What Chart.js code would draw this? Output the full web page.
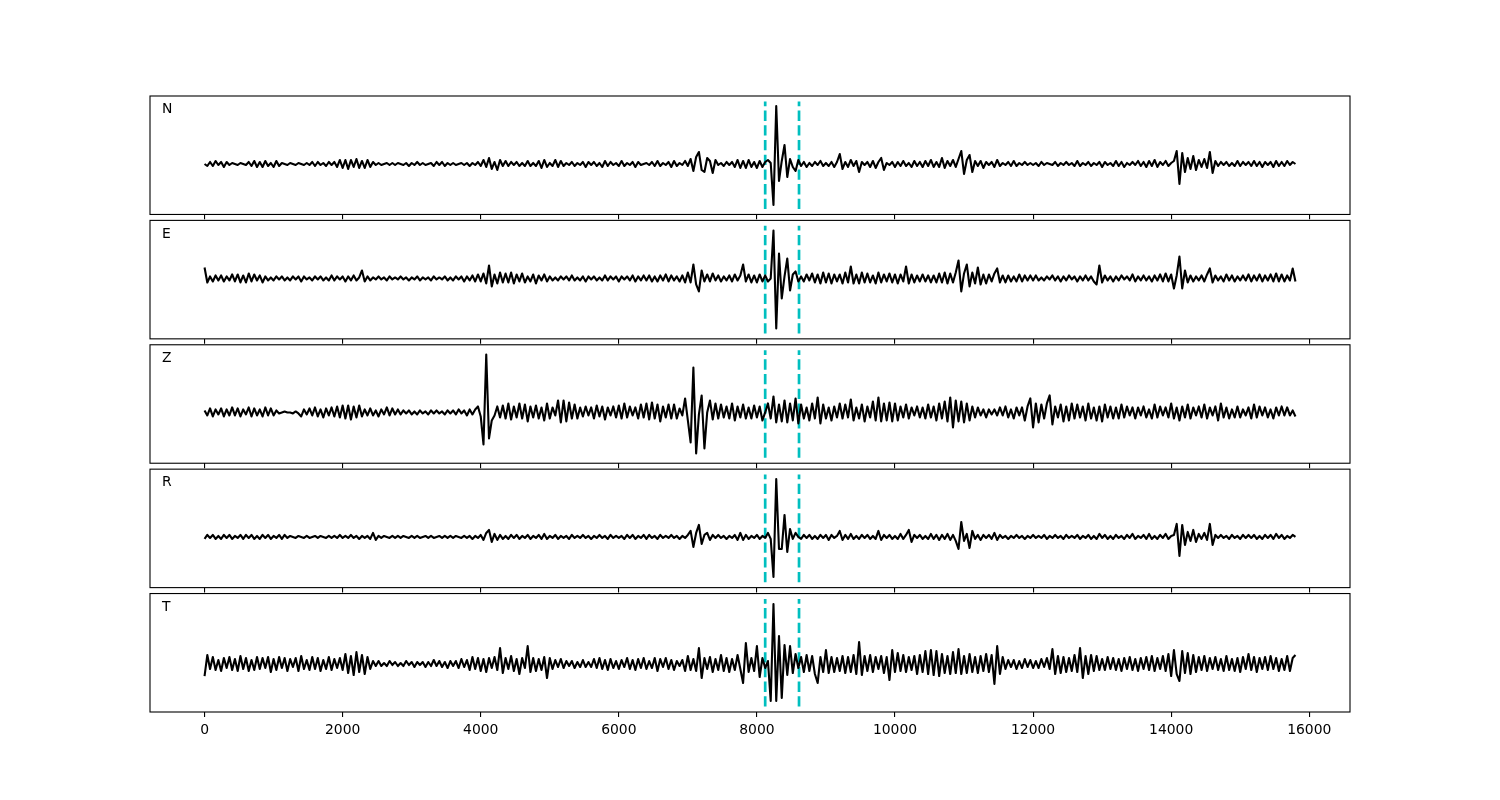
<!DOCTYPE html>
<html>
<head>
<meta charset="utf-8">
<script src="https://cdn.jsdelivr.net/npm/chart.js@4.4.1/dist/chart.umd.min.js"></script>
<style>
  html, body { margin: 0; padding: 0; background: #ffffff; }
  #wrap { position: relative; width: 1500px; height: 800px; background: #ffffff; }
  #wrap canvas { position: absolute; left: 0; top: 0; }
</style>
</head>
<body>
<div id="wrap"></div>
<script>
// ---------------- data ----------------
const SAMPLE_STEP = 40;                       // time units between samples
const tickValues = [0, 2000, 4000, 6000, 8000, 10000, 12000, 14000, 16000];
const tickLabels = ['0', '2000', '4000', '6000', '8000', '10000', '12000', '14000', '16000'];
const pickTimes = [8120, 8610];               // dashed cyan markers
const channelNames = ['N', 'E', 'Z', 'R', 'T'];
const markerLow  = [-45.1, -55.0, -45.4, -45.3, -42.6];
const markerHigh = [ 62.6,  52.7,  62.3,  62.4,  65.1];

const traceN = [
0,-2,2,-2,3,-1,2,-3,2,-1,
1,0,-1,1,0,-1,2,-2,3,-3,
2,-3,3,-2,1,-3,3,-2,1,0,
-1,1,0,-1,1,0,-1,1,-1,2,
-2,2,-1,1,-2,2,-1,2,-3,4,
-4,4,-5,4,-3,5,-4,3,-4,4,
-3,2,-1,1,-1,0,1,-1,1,-1,
1,0,-1,1,-2,1,-1,2,-1,1,
-1,0,1,-2,2,-1,2,-2,1,-1,
1,-1,0,1,-1,1,-2,1,-1,2,
-2,4,-3,6,-5,2,-6,4,-2,3,
-2,2,-1,2,-2,1,-2,3,-2,1,
-2,3,-4,4,-3,1,-2,4,-3,3,
-2,1,-1,2,-2,1,-1,2,-3,2,
-1,2,-2,1,-3,3,-2,2,-1,1,
-2,3,-2,1,-1,2,-3,2,-1,0,
1,-1,2,-2,3,-2,1,-1,2,-3,
3,-2,1,-1,3,-2,5,-7,7,12,
-6,-8,6,3,-9,4,-1,1,-2,2,
-1,2,-3,4,-4,3,-4,4,-3,2,
-4,3,-3,2,4,1,-41,58,-17,3,
19,-13,5,-3,-7,4,-2,2,-3,1,
-2,2,-1,3,-2,1,-2,2,-3,2,
10,-5,2,-3,4,-2,3,-8,2,-1,
2,-3,3,-4,2,6,-6,1,-1,2,
-3,2,-2,3,-2,1,-3,3,-2,2,
-3,3,-2,4,-3,2,-3,6,-4,3,
-2,4,-3,5,13,-10,4,9,-8,3,
-2,3,-4,2,-1,2,-3,4,-2,1,
-1,2,-2,3,-2,1,-1,2,-1,1,
-1,1,-2,2,-1,1,0,-1,2,-2,
1,-1,2,-1,1,-2,3,-2,1,-1,
2,-2,1,-1,2,-3,2,-1,1,-2,
3,-2,2,-3,1,-1,2,-1,3,-2,
2,-3,3,-2,4,-3,2,-1,3,-2,
1,3,13,-20,11,-8,6,-5,8,-6,
4,-3,5,-4,12,-9,3,-2,2,-1,
2,-2,1,-2,3,-2,2,-1,2,-2,
3,-2,2,-3,2,-1,2,-3,3,-2,
2,-2,3,-1,2,0
];

const traceE = [
11,-4,2,-3,3,-2,3,-3,2,-2,
4,-3,4,-4,3,-4,5,-3,4,-2,
3,-4,2,-2,1,-2,2,-1,2,-2,
1,-2,2,-1,2,-3,2,-1,1,-2,
2,-1,2,-2,1,-2,3,-2,2,-1,
2,-3,2,-2,3,-2,1,8,-3,2,
-2,1,-1,2,-1,1,-2,2,-1,1,
-1,2,-1,1,-2,1,-1,2,-2,1,
-1,1,-2,2,-1,1,-1,2,-2,1,
-2,2,-1,2,-3,2,-2,3,-3,4,
-3,5,-5,13,-8,4,-5,6,-4,5,
-4,6,-5,4,-3,5,-4,2,-3,4,
-5,3,-2,4,-3,2,-2,1,-2,2,
-1,2,-2,3,-2,1,-2,2,-3,2,
-1,2,-2,1,-2,3,-2,2,-1,2,
-3,2,-1,2,-2,3,-3,2,-2,3,
-2,3,-3,2,-3,3,-2,4,-3,3,
-2,2,-3,3,-4,6,-4,14,-6,-13,
8,-3,4,-3,5,-2,3,-3,2,-2,
3,-3,4,-2,3,14,-3,4,-4,3,
-4,4,-3,3,-3,0,48,-50,25,-20,
2,20,-12,4,7,-3,2,-3,4,-2,
5,-4,4,-5,6,-4,5,-5,4,-3,
4,-5,6,-4,12,-5,4,-5,6,-4,
5,-4,3,-5,6,-4,4,-3,5,-4,
4,-5,4,-3,12,-5,4,-4,3,-3,
4,-3,3,-4,3,-4,5,-4,6,-5,
5,-4,6,18,-13,5,14,-8,6,-5,
11,-6,4,-5,4,-3,5,10,-4,3,
-4,3,-3,2,-3,4,-3,3,-2,3,
-2,3,-2,1,-2,2,-1,3,-2,2,
-3,2,-2,3,-1,2,-3,2,-2,3,
-2,2,-3,-6,13,-4,3,-2,2,-3,
2,-2,3,-1,2,-2,4,-3,2,-2,
3,-2,2,-3,3,-2,4,-3,5,-3,
4,-10,3,22,-10,8,-4,3,-3,2,
-2,3,-3,4,10,-4,3,-2,2,-3,
4,-2,3,-3,2,-2,3,-2,4,-3,
3,-2,4,-3,3,-2,4,-3,5,-3,
4,-3,3,-2,10,-3
];

const traceZ = [
2,-3,4,-4,3,-2,4,-4,3,-3,
5,-3,4,-4,3,-2,5,-4,4,-3,
3,-4,5,-3,4,-3,2,-1,0,1,
0,0,-1,1,-1,-4,3,-2,4,-3,
5,-4,3,-5,4,-3,5,-4,6,-5,
7,-6,7,-7,6,-5,7,-4,3,-3,
4,-3,2,-4,3,-2,5,-3,4,-2,
3,-2,2,-1,2,-2,1,-2,2,-1,
1,-2,2,-1,2,-1,1,-2,2,-1,
2,-2,3,-1,2,-3,3,-2,3,6,
-4,-32,58,-26,-8,-3,6,-5,7,-6,
9,-7,6,-5,9,-6,8,-9,6,-5,
7,-6,5,-8,9,-6,5,-3,12,-10,
12,-9,10,-6,8,-6,5,-4,6,-3,
5,-6,7,-4,6,-7,5,-3,6,-5,
7,-6,9,-5,6,-3,5,-6,8,-5,
9,-7,10,-6,8,-9,6,-5,8,-6,
8,-6,4,-3,14,-8,-30,45,-41,-2,
17,-36,0,12,-7,9,-6,8,-5,6,
-6,9,-8,6,-5,8,-6,5,-6,7,
-5,6,-8,0,9,-6,16,-10,8,-9,
12,-10,9,-8,14,-11,8,-6,5,-8,
9,-6,15,-11,8,-6,5,-8,6,-5,
9,-6,8,-5,13,-8,5,-6,8,-9,
6,-5,11,-8,15,-9,9,-8,10,-9,
9,-8,6,-5,8,-6,5,-3,6,-5,
5,-6,8,-5,6,-8,9,-6,11,-9,
15,-15,12,-9,11,-10,9,-8,6,-5,
5,-3,3,-5,3,-2,3,-3,5,-3,
6,-5,3,-6,5,-3,5,-8,6,14,
-15,9,-10,8,-6,9,17,-12,6,-5,
8,-9,6,-8,9,-6,8,-5,6,-8,
9,-6,5,-8,6,-9,8,-5,6,-6,
5,-6,8,-5,6,-3,5,-6,5,-3,
6,-5,3,-6,8,-5,6,-3,5,-5,
9,-6,5,-8,6,-5,8,-6,5,-3,
6,-5,8,-6,5,-3,6,-8,9,-5,
5,-6,3,-5,6,-5,3,-3,5,-6,
8,-5,6,-3,5,-5,3,-6,5,-3,
6,-3,5,-3,2,-4
];

const traceR = [
-2,2,-1,2,-2,1,-2,2,-1,2,
-2,1,-1,2,-2,2,-1,2,-2,1,
-2,2,-1,2,-2,1,-1,2,-2,2,
-1,1,0,-1,1,0,-1,1,-1,0,
1,-1,1,0,-1,1,-1,1,-1,2,
-1,1,-1,2,-1,1,-2,1,-1,1,
-2,4,-3,1,-1,1,0,-1,1,-1,
1,-1,1,0,-1,1,-1,1,-1,0,
1,-1,1,-1,0,1,-1,1,-1,1,
-1,1,0,-1,1,-1,1,-2,1,-1,
2,-3,4,7,-5,3,-3,2,-2,1,
-2,2,-1,2,-2,1,-1,2,-2,1,
-1,2,-2,3,-2,1,-1,2,-2,1,
-1,1,-2,2,-1,1,-1,2,-1,1,
-2,1,-1,2,-1,1,-2,2,-1,1,
-1,1,-2,2,-1,2,-2,1,-1,2,
-2,2,-1,1,-2,2,-1,1,-1,2,
-1,1,-2,1,-1,2,6,-10,4,12,
-7,2,4,-3,2,-1,2,-1,1,-2,
1,-1,2,-3,4,-3,2,-2,1,-1,
2,-2,1,-1,4,-2,-40,58,-12,-12,
22,-15,8,-2,4,0,-2,2,-1,2,
-2,1,-2,2,-1,2,-3,2,-1,1,
6,-3,2,-2,3,-2,1,-2,2,-1,
2,-2,1,-2,6,-3,2,-1,2,-2,
1,-2,3,-2,2,7,-5,2,-1,2,
-2,1,-2,3,-2,2,-3,2,-2,3,
-3,2,-4,-12,15,-4,3,-11,6,-2,
2,-3,2,-1,2,-2,4,-3,2,-1,
1,-2,1,-1,2,-1,1,-2,1,-1,
2,-1,1,-1,2,-2,1,-1,2,-1,
1,-2,2,-1,1,-1,2,-2,1,-1,
2,-2,1,-2,3,-1,2,-2,1,-2,
2,-1,1,-2,2,-1,3,-2,1,-1,
2,-2,3,-2,1,-2,2,-1,3,-2,
1,2,13,-19,12,-8,5,-4,7,-5,
3,-2,4,-3,13,-8,2,-1,2,-1,
1,-2,2,-1,1,-2,2,-1,2,-1,
2,-2,1,-2,2,-1,2,-2,3,-1,
2,-2,1,-1,2,0
];

const traceT = [
-12,9,-5,7,-6,4,-7,6,-4,7,
-6,5,-7,8,-5,6,-7,4,-6,7,
-5,6,-4,7,-8,5,-6,7,-4,6,
-7,5,-3,6,-7,8,-5,4,-6,7,
-5,6,-7,4,-5,7,-6,5,-4,6,
-6,10,-9,8,-11,12,-8,9,-10,7,
-5,3,-2,3,-2,1,-2,3,-1,2,
-2,1,-2,3,-1,2,-3,2,-1,2,
-3,2,-2,4,-2,3,-3,2,-4,3,
-2,3,-4,5,-3,4,-6,7,-5,6,
-7,5,-8,6,-4,7,-6,16,-9,6,
-5,8,-7,5,-10,6,-4,18,-8,6,
-7,5,-6,7,-14,6,-5,4,-3,5,
-4,3,-2,3,-4,2,-3,4,-3,2,
-3,5,-4,6,-5,4,-6,5,-4,3,
-5,4,-3,6,-5,4,-6,5,-4,6,
-5,3,-4,6,-7,5,-3,6,-5,4,
-6,3,-2,4,-7,8,-6,5,-7,16,
-14,6,-5,7,-8,5,-6,9,-7,6,
-8,5,-6,9,-5,-19,21,-8,6,-7,
18,-13,6,-4,3,-37,60,-37,28,-34,
19,-11,18,-9,10,-4,7,-8,9,-7,
8,-10,-19,7,-8,14,-9,7,-8,6,
-7,8,-9,7,-8,9,-10,22,-11,8,
-7,9,-8,7,-5,8,-9,7,-16,14,
-8,11,-7,9,-8,7,-6,8,-10,9,
-8,13,-10,14,-11,13,-12,10,-9,8,
-10,12,-9,15,-10,8,-9,10,-8,7,
-9,8,-7,10,-8,9,-20,18,-10,7,
-5,4,-3,4,-5,3,-4,5,-3,4,
-4,3,-4,5,-3,6,-5,15,-10,8,
-9,7,-8,6,-7,9,-8,16,-14,8,
-10,9,-7,8,-6,5,-6,7,-5,6,
-6,5,-7,6,-5,7,-6,5,-7,6,
-5,7,-6,8,-7,6,-5,8,-7,10,
-12,14,-10,-17,13,-9,11,-10,9,-8,
7,-6,8,-7,6,-5,7,-6,5,-7,
8,-6,5,-7,6,-8,7,-5,10,-6,
7,-8,6,-5,7,-6,8,-5,6,-7,
5,-6,8,-7,6,9
];

const traces = [traceN, traceE, traceZ, traceR, traceT];

// ---------------- layout / style ----------------
const FIG_W = 1500, FIG_H = 800;
const AX_LEFT = 150, AX_RIGHT = 1350;
const AX_TOP0 = 96, AX_H = 118.46, AX_STEP = 124.385;
const X_MIN = -790, X_MAX = 16590;
const TRACE_COLOR = '#000000';
const PICK_COLOR = '#00bfbf';
const FONT = '"DejaVu Sans", "Liberation Sans", sans-serif';

Chart.defaults.font.family = FONT;
Chart.defaults.font.size = 13.9;
Chart.defaults.color = '#000000';

const framePlugin = {
  id: 'frame',
  afterDraw(chart, args, opts) {
    const a = chart.chartArea, ctx = chart.ctx;
    ctx.save();
    ctx.strokeStyle = '#000000';
    ctx.lineWidth = 1.1;
    ctx.strokeRect(a.left, a.top, a.right - a.left, a.bottom - a.top);
    ctx.font = '13.9px ' + FONT;
    ctx.fillStyle = '#000000';
    ctx.textBaseline = 'alphabetic';
    ctx.textAlign = 'left';
    ctx.fillText(opts.label, a.left + 12, a.top + 17.3);
    ctx.restore();
  }
};

const wrap = document.getElementById('wrap');
for (let k = 0; k < 5; k++) {
  const isLast = (k === 4);
  const top = AX_TOP0 + k * AX_STEP;
  const bottom = top + AX_H;
  const scaleH = isLast ? 40 : 6;
  const lo = markerLow[k], hi = markerHigh[k];
  const margin = 0.05 * (hi - lo);

  const canvas = document.createElement('canvas');
  canvas.width = FIG_W; canvas.height = FIG_H;
  canvas.style.width = FIG_W + 'px'; canvas.style.height = FIG_H + 'px';
  wrap.appendChild(canvas);

  const tr = traces[k];
  const datasets = [{
    data: tr.map((v, i) => ({ x: i * SAMPLE_STEP, y: v })),
    borderColor: TRACE_COLOR,
    borderWidth: 2.1,
    pointRadius: 0,
    borderJoinStyle: 'round',
    tension: 0,
    fill: false
  }];
  pickTimes.forEach(t => datasets.push({
    data: [{ x: t, y: lo }, { x: t, y: hi }],
    borderColor: PICK_COLOR,
    borderWidth: 2.7,
    borderDash: [10.3, 4.4],
    pointRadius: 0,
    fill: false
  }));

  new Chart(canvas, {
    type: 'line',
    data: { datasets },
    plugins: [framePlugin],
    options: {
      responsive: false,
      animation: false,
      devicePixelRatio: 1,
      events: [],
      layout: { padding: { left: AX_LEFT, right: FIG_W - AX_RIGHT, top: top, bottom: FIG_H - bottom - scaleH } },
      plugins: { legend: { display: false }, tooltip: { enabled: false }, frame: { label: channelNames[k] } },
      scales: {
        x: {
          type: 'linear',
          min: X_MIN, max: X_MAX,
          afterBuildTicks: s => { s.ticks = tickValues.map(v => ({ value: v })); },
          afterFit: s => { s.height = scaleH; },
          border: { display: false },
          grid: { drawOnChartArea: false, drawTicks: true, tickLength: 4.9, color: '#000000', tickColor: '#000000', lineWidth: 1.1 },
          ticks: {
            display: isLast,
            autoSkip: false,
            maxRotation: 0,
            padding: 4.9,
            color: '#000000',
            font: { size: 13.9, family: FONT },
            callback: (v) => { const j = tickValues.indexOf(v); return j >= 0 ? tickLabels[j] : ''; }
          }
        },
        y: {
          type: 'linear',
          display: false,
          min: lo - margin, max: hi + margin
        }
      }
    }
  });
}
</script>
</body>
</html>
